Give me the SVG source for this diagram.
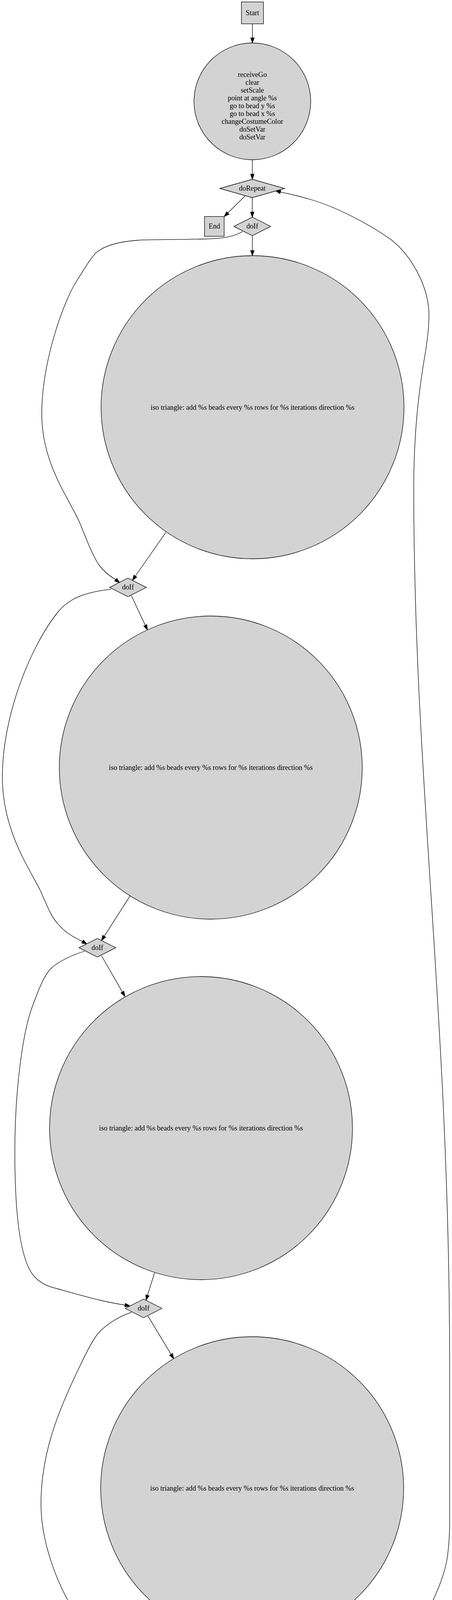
<svg xmlns="http://www.w3.org/2000/svg" width="1158" height="4451" viewBox="0 0 1158 4451">
<style>
.n{fill:#d3d3d3;stroke:#000;stroke-width:1.3}
.t{font-family:"Liberation Serif","Times New Roman",serif;font-size:18.2px;text-anchor:middle;fill:#000}
.e{fill:none;stroke:#000;stroke-width:1.3}
.a{fill:#000;stroke:#000;stroke-width:1.3}
</style>
<rect width="1158" height="4451" fill="#fff"/>
<g id="connectors">
<path class="e" d="M646.7,61 L646.7,97"/><polygon class="a" points="642.2,97 651.2,97 646.7,110"/>
<path class="e" d="M646.5,409 L646.5,446"/><polygon class="a" points="642,446 651,446 646.5,459"/>
<path class="e" d="M627.7,501.7 L583.6,545.2"/><polygon class="a" points="580.4,542 586.8,548.4 574.3,554.3"/>
<path class="e" d="M646.3,506 L646.3,543"/><polygon class="a" points="641.8,543 650.8,543 646.3,556"/>
<path class="e" d="M646.5,603.3 L646.5,641.5"/><polygon class="a" points="642,641.5 651,641.5 646.5,654.5"/>
<path class="e" d="M621.7,592.7 C598,606 575,611 520,612 C430,614 380,613 354,615 C310,618 275,626 251,643 C235,655 215,690 196,720 C160,777 107,930 107,1060 C107,1190 180,1280 205,1340 C218,1372 238,1425 255,1448 C268,1465 283,1476 296.3,1483.9"/><polygon class="a" points="293.6,1487.5 299,1480.3 306.7,1491.7"/>
<path class="e" d="M425,1362.7 L346.7,1475"/><polygon class="a" points="343,1472.4 350.4,1477.6 339.3,1485.7"/>
<path class="e" d="M336.7,1525 L372.2,1600.9"/><polygon class="a" points="368.1,1602.8 376.3,1599 377.7,1612.7"/>
<path class="e" d="M285,1508.3 C250,1512 205,1522 183,1537 C165,1548 157,1556 150,1565 C80,1650 6,1830 6,1990 C6,2130 80,2230 103.3,2280 C118,2312 130,2345 146.7,2363.3 C165,2385 185,2398 211.4,2410.3"/><polygon class="a" points="209.2,2414.2 213.6,2406.4 222.7,2416.7"/>
<path class="e" d="M333.3,2293.3 L267,2396.8"/><polygon class="a" points="263.2,2394.4 270.8,2399.2 260,2407.7"/>
<path class="e" d="M260,2446.7 L313.5,2539.4"/><polygon class="a" points="309.6,2541.7 317.4,2537.2 320,2550.7"/>
<path class="e" d="M216.7,2435 C190,2443 150,2460 130,2480 C110,2500 95,2545 81.7,2580 C60,2640 38,2780 38,2950 C38,3100 50,3230 90,3270 C110,3290 130,3295 150,3300 C200,3314 260,3332 320.5,3341"/><polygon class="a" points="319.7,3345.4 321.3,3336.6 333.3,3343.3"/>
<path class="e" d="M396,3258.3 L377.9,3315.9"/><polygon class="a" points="373.6,3314.6 382.2,3317.3 374,3328.3"/>
<path class="e" d="M379.3,3369.3 L438.3,3467.2"/><polygon class="a" points="434.5,3469.5 442.2,3464.9 445,3478.3"/>
<path class="e" d="M336.7,3359.3 C305,3370 272,3390 250,3415 C235,3435 215,3475 203.3,3500 C150,3610 105,3720 105,3850 C105,4000 200,4180 300,4250 C360,4295 420,4315 450,4321.7 C480,4328 510,4333 534.7,4337"/><polygon class="a" points="533.7,4341.4 535.7,4332.6 547.3,4340"/>
<path class="e" d="M646.5,4198.3 L646.5,4233.7"/><polygon class="a" points="642,4233.7 651,4233.7 646.5,4246.7"/>
<path class="e" d="M745.7,4338.3 C820,4330 900,4300 966.7,4266.7 C1000,4250 1020,4232 1033,4216.7 C1060,4185 1085,4150 1100,4116.7 C1120,4075 1140,4030 1146.7,3983 C1150,3955 1152,3930 1152,3900 L1152,3500 C1152,2600 1060,2000 1060,1250 C1060,1100 1074,1000 1086,925 C1094,880 1099,840 1099,807 C1099,730 1050,650 1000,612 C940,570 860,530 800,512 C770,503 740,496 718.3,491.7"/><polygon class="a" points="719.5,487.4 717.1,496 706,488.3"/>
</g>
<g id="start"><rect class="n" x="618.5" y="5" width="56.5" height="56"/><text class="t" x="646.7" y="38.5">Start</text></g>
<g id="init"><circle class="n" cx="646.5" cy="259.5" r="149.5"/>
<text class="t" x="646.5" y="196.5">receiveGo</text>
<text class="t" x="646.5" y="216.5">clear</text>
<text class="t" x="646.5" y="236.5">setScale</text>
<text class="t" x="646.5" y="256.5">point at angle %s</text>
<text class="t" x="646.5" y="276.5">go to bead y %s</text>
<text class="t" x="646.5" y="296.5">go to bead x %s</text>
<text class="t" x="646.5" y="316.5">changeCostumeColor</text>
<text class="t" x="646.5" y="336.5">doSetVar</text>
<text class="t" x="646.5" y="356.5">doSetVar</text></g>
<g id="doRepeat"><polygon class="n" points="563.3,482.5 646.3,459 729.3,482.5 646.3,506"/><text class="t" x="646.3" y="487.7">doRepeat</text></g>
<g id="end"><rect class="n" x="524" y="554.3" width="50.3" height="50.7"/><text class="t" x="549.2" y="585.3">End</text></g>
<g id="doIf1"><polygon class="n" points="599.3,579.7 646.3,556 693.3,579.7 646.3,603.3"/><text class="t" x="646.3" y="585">doIf</text></g>
<g id="tri1"><circle class="n" cx="647" cy="1042.5" r="388"/><text class="t" x="647" y="1048.5">iso triangle: add %s beads every %s rows for %s iterations direction %s</text></g>
<g id="doIf2"><polygon class="n" points="280.8,1503.8 327.8,1480 374.8,1503.8 327.8,1527.5"/><text class="t" x="327.8" y="1509">doIf</text></g>
<g id="tri2"><circle class="n" cx="540" cy="1965" r="388"/><text class="t" x="540" y="1971">iso triangle: add %s beads every %s rows for %s iterations direction %s</text></g>
<g id="doIf3"><polygon class="n" points="202.5,2426.2 249.5,2402.5 296.5,2426.2 249.5,2450"/><text class="t" x="249.5" y="2431.5">doIf</text></g>
<g id="tri3"><circle class="n" cx="515" cy="2888" r="388"/><text class="t" x="515" y="2894">iso triangle: add %s beads every %s rows for %s iterations direction %s</text></g>
<g id="doIf4"><polygon class="n" points="320.8,3349.5 367.8,3325.7 414.8,3349.5 367.8,3373.3"/><text class="t" x="367.8" y="3355">doIf</text></g>
<g id="tri4"><circle class="n" cx="646" cy="3810" r="388"/><text class="t" x="646" y="3816">iso triangle: add %s beads every %s rows for %s iterations direction %s</text></g>
<g id="update"><circle class="n" cx="646.5" cy="4346" r="99"/>
<text class="t" x="646.5" y="4332">doChangeVar</text>
<text class="t" x="646.5" y="4352">doChangeVar</text>
<text class="t" x="646.5" y="4372">go to bead y %s</text>
<text class="t" x="646.5" y="4392">go to bead x %s</text></g>
</svg>
